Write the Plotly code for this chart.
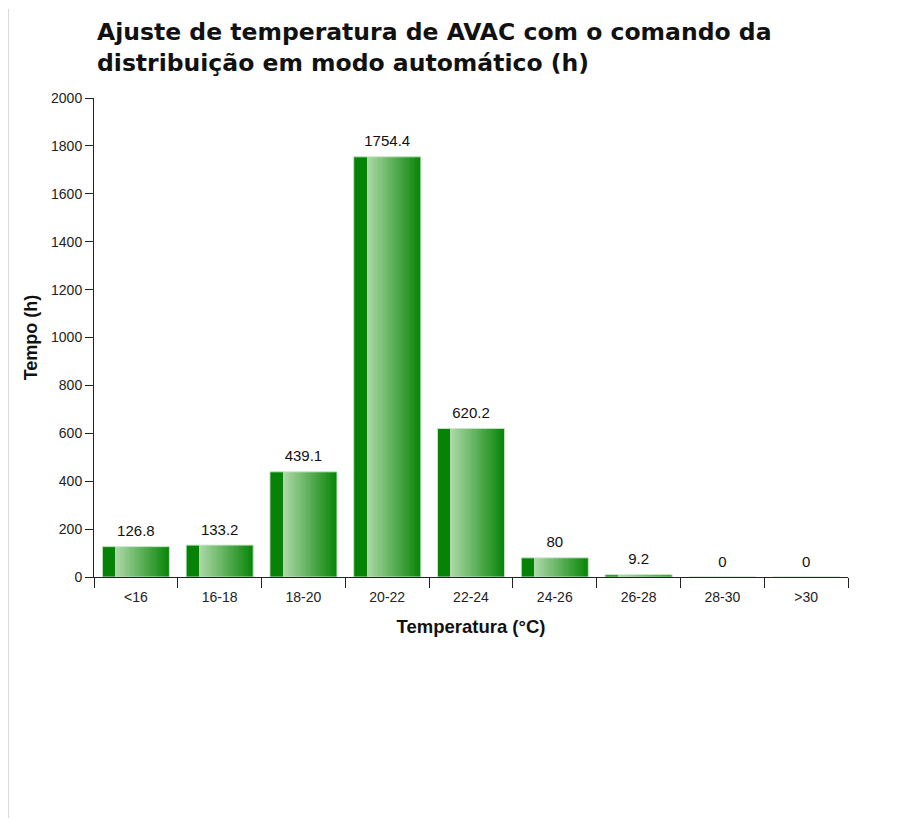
import plotly.graph_objects as go

categories = ["<16", "16-18", "18-20", "20-22", "22-24", "24-26", "26-28", "28-30", ">30"]
hours = [126.8, 133.2, 439.1, 1754.4, 620.2, 80, 9.2, 0, 0]
labels = ["126.8", "133.2", "439.1", "1754.4", "620.2", "80", "9.2", "0", "0"]
y_ticks = [0, 200, 400, 600, 800, 1000, 1200, 1400, 1600, 1800, 2000]
title_text = "Ajuste de temperatura de AVAC com o comando da<br>distribuição em modo automático (h)"

W, H = 893, 810
L, R, T, B = 86, 53, 90, 241
PW, PH = W - L - R, H - T - B

fig = go.Figure()

bar_w = 0.8
dark = (6, 130, 6)
light = (172, 216, 166)
end = (10, 134, 10)

solid_frac = 0.2
fig.add_trace(go.Bar(
    x=categories, y=hours, width=bar_w * solid_frac, offset=-bar_w / 2,
    marker=dict(color="rgb(%d,%d,%d)" % dark, line=dict(width=0)),
    hoverinfo="skip", showlegend=False))

N = 32
sw = bar_w * (1 - solid_frac) / N
for i in range(N):
    t = i / (N - 1)
    c = tuple(round(light[k] + (end[k] - light[k]) * t) for k in range(3))
    fig.add_trace(go.Bar(
        x=categories, y=hours, width=sw * 1.05,
        offset=-bar_w / 2 + bar_w * solid_frac + i * sw,
        marker=dict(color="rgb(%d,%d,%d)" % c, line=dict(width=0)),
        hoverinfo="skip", showlegend=False))

fig.add_trace(go.Bar(
    x=categories, y=hours, width=bar_w, offset=-bar_w / 2,
    marker=dict(color="rgba(0,0,0,0)", line=dict(width=1, color="rgba(200,232,200,0.9)")),
    hoverinfo="skip", showlegend=False))

# value labels
fig.add_trace(go.Scatter(
    x=categories, y=hours, mode="markers+text", text=labels, textposition="top center",
    marker=dict(size=9, color="rgba(0,0,0,0)"),
    textfont=dict(family="Liberation Sans, Arial", size=15, color="#111"),
    cliponaxis=False, hoverinfo="skip", showlegend=False))

fig.update_layout(
    width=W, height=H,
    margin=dict(l=L, r=R, t=T, b=B),
    barmode="overlay",
    plot_bgcolor="white", paper_bgcolor="white",
    font=dict(family="Liberation Sans, Arial", size=14, color="#222"),
    annotations=[dict(
        text="<b>" + title_text + "</b>", xref="paper", yref="paper",
        x=1 / PW, y=(PH + T - 8) / PH, xanchor="left", yanchor="top",
        align="left", showarrow=False,
        font=dict(family="DejaVu Sans", size=23.5, color="#111"))],
    xaxis=dict(
        title=dict(text="<b>Temperatura (°C)</b>", font=dict(size=18.5, color="#111"), standoff=16),
        range=[-0.5, len(categories) - 0.5],
        showline=True, linecolor="#222", linewidth=1,
        ticks="outside", ticklen=10, tickcolor="#222", tickson="boundaries",
        ticklabelstandoff=7,
        showgrid=False, zeroline=False, fixedrange=True),
    yaxis=dict(
        title=dict(text="<b>Tempo (h)</b>", font=dict(size=18, color="#111"), standoff=8),
        range=[0, 2000], tickvals=y_ticks,
        showline=True, linecolor="#222", linewidth=1,
        ticks="outside", ticklen=8, tickcolor="#222",
        showgrid=False, zeroline=False, fixedrange=True),
    shapes=[dict(type="line", xref="paper", yref="paper",
                 x0=(0 - L) / PW, x1=(0 - L) / PW,
                 y0=(PH + T - 1) / PH, y1=-B / PH,
                 line=dict(color="#cccccc", width=1.5))],
)

fig.write_html("out.html", config={"displayModeBar": False})
